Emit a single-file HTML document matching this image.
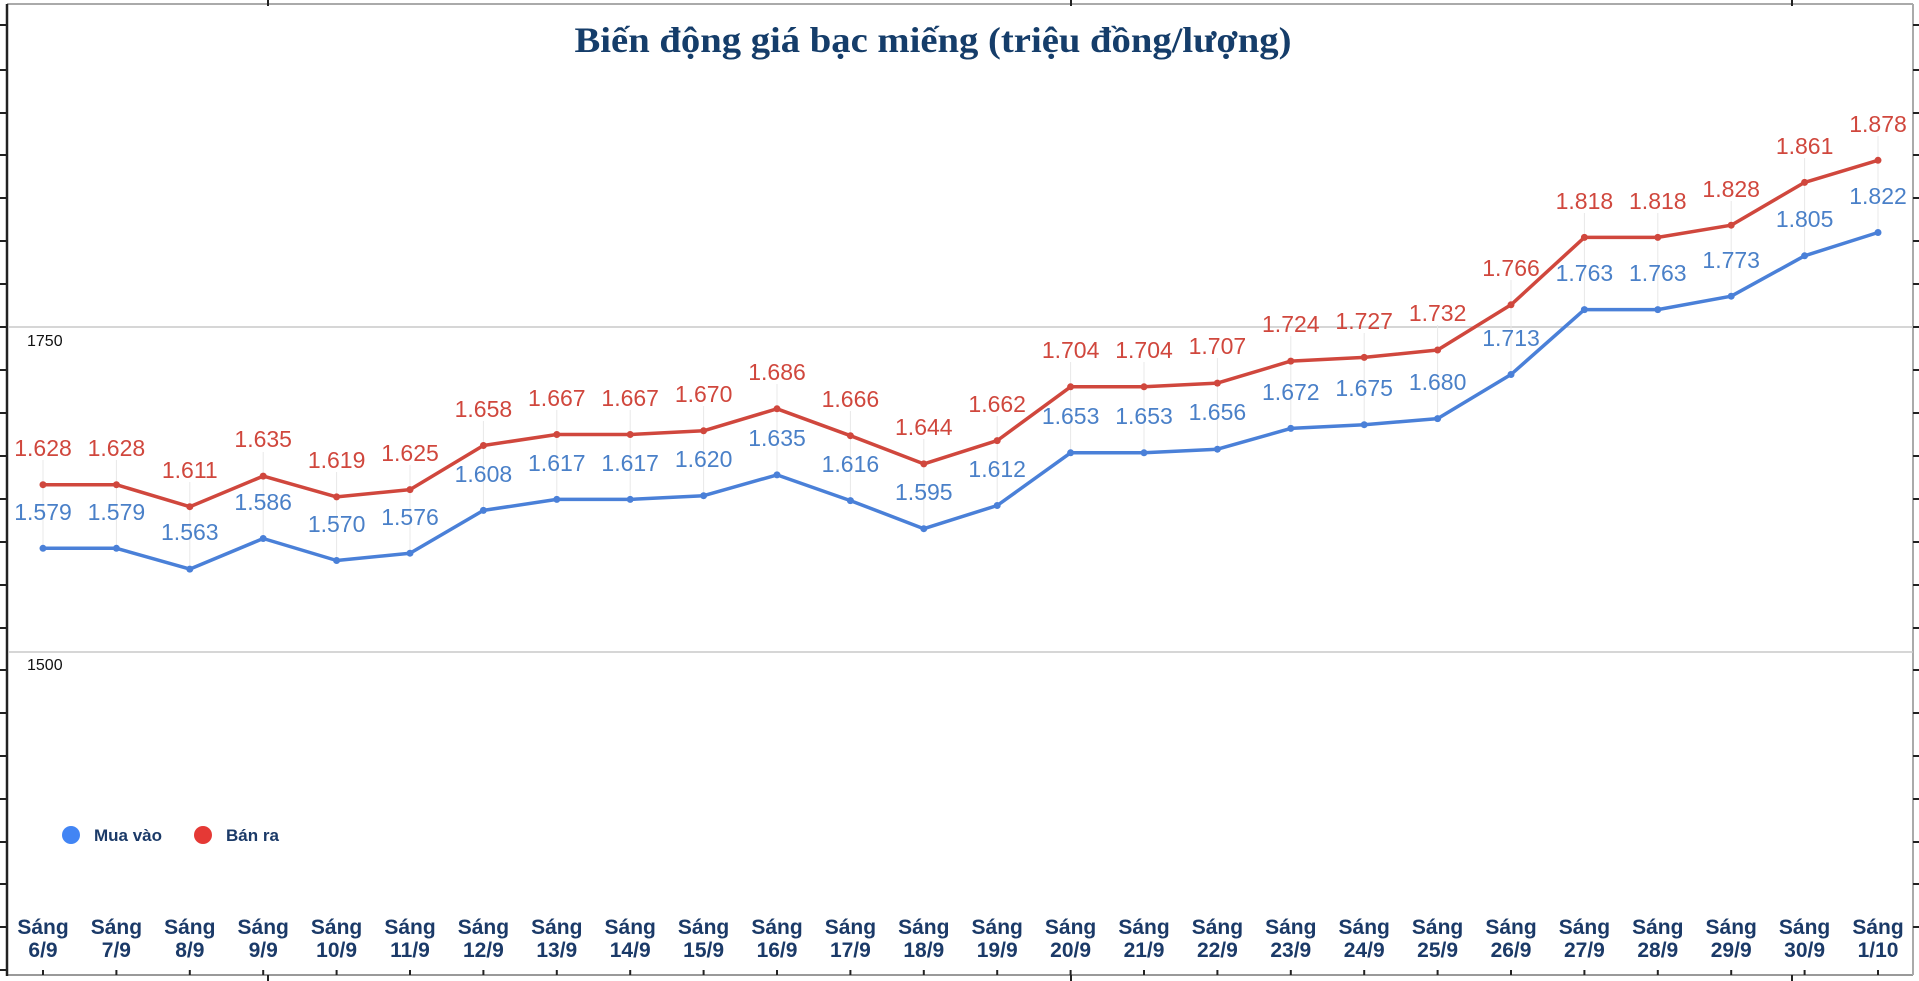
<!DOCTYPE html>
<html><head><meta charset="utf-8"><style>
html,body{margin:0;padding:0;background:#fff;}
svg{display:block;}
.r{fill:#d0473d;font-family:"Liberation Sans",sans-serif;font-size:23px;text-anchor:middle;}
.b{fill:#4a80c8;font-family:"Liberation Sans",sans-serif;font-size:23px;text-anchor:middle;}
.x{fill:#1b3a68;font-family:"Liberation Sans",sans-serif;font-size:21px;font-weight:bold;text-anchor:middle;}
.v{stroke:#e8e8e8;stroke-width:1;}
</style></head><body>
<svg width="1919" height="981" viewBox="0 0 1919 981" xmlns="http://www.w3.org/2000/svg">
<rect width="1919" height="981" fill="#fff"/>
<!-- borders -->
<line x1="7" y1="4" x2="1913" y2="4" stroke="#aaa" stroke-width="2"/>
<line x1="7" y1="975" x2="1913" y2="975" stroke="#999" stroke-width="2"/>
<line x1="1913" y1="4" x2="1913" y2="975" stroke="#aaa" stroke-width="2"/>
<line x1="7" y1="4" x2="7" y2="976" stroke="#222" stroke-width="2.5"/>
<g stroke="#222" stroke-width="2">
<line x1="0" y1="25" x2="7" y2="25"/><line x1="0" y1="70" x2="7" y2="70"/><line x1="0" y1="113" x2="7" y2="113"/><line x1="0" y1="155" x2="7" y2="155"/><line x1="0" y1="198" x2="7" y2="198"/><line x1="0" y1="241" x2="7" y2="241"/><line x1="0" y1="284" x2="7" y2="284"/><line x1="0" y1="327" x2="7" y2="327"/><line x1="0" y1="370" x2="7" y2="370"/><line x1="0" y1="413" x2="7" y2="413"/><line x1="0" y1="456" x2="7" y2="456"/><line x1="0" y1="499" x2="7" y2="499"/><line x1="0" y1="542" x2="7" y2="542"/><line x1="0" y1="585" x2="7" y2="585"/><line x1="0" y1="628" x2="7" y2="628"/><line x1="0" y1="670" x2="7" y2="670"/><line x1="0" y1="713" x2="7" y2="713"/><line x1="0" y1="756" x2="7" y2="756"/><line x1="0" y1="799" x2="7" y2="799"/><line x1="0" y1="842" x2="7" y2="842"/><line x1="0" y1="884" x2="7" y2="884"/><line x1="0" y1="927" x2="7" y2="927"/><line x1="0" y1="970" x2="7" y2="970"/>
<line x1="1913" y1="25" x2="1919" y2="25"/><line x1="1913" y1="70" x2="1919" y2="70"/><line x1="1913" y1="113" x2="1919" y2="113"/><line x1="1913" y1="155" x2="1919" y2="155"/><line x1="1913" y1="198" x2="1919" y2="198"/><line x1="1913" y1="241" x2="1919" y2="241"/><line x1="1913" y1="284" x2="1919" y2="284"/><line x1="1913" y1="327" x2="1919" y2="327"/><line x1="1913" y1="370" x2="1919" y2="370"/><line x1="1913" y1="413" x2="1919" y2="413"/><line x1="1913" y1="456" x2="1919" y2="456"/><line x1="1913" y1="499" x2="1919" y2="499"/><line x1="1913" y1="542" x2="1919" y2="542"/><line x1="1913" y1="585" x2="1919" y2="585"/><line x1="1913" y1="628" x2="1919" y2="628"/><line x1="1913" y1="670" x2="1919" y2="670"/><line x1="1913" y1="713" x2="1919" y2="713"/><line x1="1913" y1="756" x2="1919" y2="756"/><line x1="1913" y1="799" x2="1919" y2="799"/><line x1="1913" y1="842" x2="1919" y2="842"/><line x1="1913" y1="884" x2="1919" y2="884"/><line x1="1913" y1="927" x2="1919" y2="927"/>
<line x1="268" y1="0" x2="268" y2="6"/><line x1="1071" y1="0" x2="1071" y2="6"/><line x1="1792" y1="0" x2="1792" y2="6"/>
<line x1="268" y1="975" x2="268" y2="981"/><line x1="1071" y1="975" x2="1071" y2="981"/><line x1="1792" y1="975" x2="1792" y2="981"/>
</g>
<!-- gridlines -->
<line x1="8" y1="327" x2="1913" y2="327" stroke="#c8c8c8" stroke-width="1.5"/>
<line x1="8" y1="652" x2="1913" y2="652" stroke="#c8c8c8" stroke-width="1.5"/>
<text x="27" y="346" font-family="Liberation Sans,sans-serif" font-size="16" fill="#111">1750</text>
<text x="27" y="670" font-family="Liberation Sans,sans-serif" font-size="16" fill="#111">1500</text>
<!-- title -->
<text x="933" y="52" text-anchor="middle" font-family="Liberation Serif,serif" font-weight="bold" font-size="36" fill="#153d6a" textLength="717" lengthAdjust="spacingAndGlyphs">Biến động giá bạc miếng (triệu đồng/lượng)</text>
<!-- connector lines -->
<g class="v">
<line x1="43" y1="460" x2="43" y2="548"/><line x1="116.4" y1="460" x2="116.4" y2="548"/><line x1="189.8" y1="482" x2="189.8" y2="569"/><line x1="263.2" y1="452" x2="263.2" y2="538"/><line x1="336.6" y1="472" x2="336.6" y2="560"/><line x1="410" y1="465" x2="410" y2="553"/><line x1="483.4" y1="421" x2="483.4" y2="510"/><line x1="556.8" y1="410" x2="556.8" y2="499"/><line x1="630.2" y1="410" x2="630.2" y2="499"/><line x1="703.6" y1="406" x2="703.6" y2="495"/><line x1="777" y1="384" x2="777" y2="475"/><line x1="850.4" y1="411" x2="850.4" y2="500"/><line x1="923.8" y1="439" x2="923.8" y2="528"/><line x1="997.2" y1="416" x2="997.2" y2="505"/><line x1="1070.6" y1="362" x2="1070.6" y2="453"/><line x1="1144" y1="362" x2="1144" y2="453"/><line x1="1217.4" y1="358" x2="1217.4" y2="449"/><line x1="1290.8" y1="336" x2="1290.8" y2="428"/><line x1="1364.2" y1="333" x2="1364.2" y2="425"/><line x1="1437.6" y1="325" x2="1437.6" y2="419"/><line x1="1511" y1="280" x2="1511" y2="374"/><line x1="1584.4" y1="213" x2="1584.4" y2="310"/><line x1="1657.8" y1="213" x2="1657.8" y2="310"/><line x1="1731.2" y1="201" x2="1731.2" y2="296"/><line x1="1804.6" y1="158" x2="1804.6" y2="256"/><line x1="1878" y1="136" x2="1878" y2="232"/>
</g>
<!-- series -->
<polyline fill="none" stroke="#d0473d" stroke-width="3.5" stroke-linejoin="round" points="43,484.7 116.4,484.7 189.8,506.7 263.2,476.1 336.6,496.9 410,489.6 483.4,445.5 556.8,434.5 630.2,434.5 703.6,430.8 777,408.8 850.4,435.7 923.8,463.9 997.2,440.6 1070.6,386.8 1144,386.8 1217.4,383.1 1290.8,361.1 1364.2,357.4 1437.6,350 1511,304.8 1584.4,237.4 1657.8,237.4 1731.2,225.2 1804.6,182.4 1878,160.3"/>
<polyline fill="none" stroke="#4a80d8" stroke-width="3.5" stroke-linejoin="round" points="43,548.3 116.4,548.3 189.8,569.1 263.2,538.5 336.6,560.5 410,553.2 483.4,510.4 556.8,499.4 630.2,499.4 703.6,495.7 777,474.9 850.4,500.6 923.8,528.7 997.2,505.5 1070.6,452.8 1144,452.8 1217.4,449.2 1290.8,428.4 1364.2,424.7 1437.6,418.6 1511,374.5 1584.4,309.6 1657.8,309.6 1731.2,296.2 1804.6,255.8 1878,232.5"/>
<g fill="#d0473d">
<circle cx="43" cy="484.7" r="3.5"/><circle cx="116.4" cy="484.7" r="3.5"/><circle cx="189.8" cy="506.7" r="3.5"/><circle cx="263.2" cy="476.1" r="3.5"/><circle cx="336.6" cy="496.9" r="3.5"/><circle cx="410" cy="489.6" r="3.5"/><circle cx="483.4" cy="445.5" r="3.5"/><circle cx="556.8" cy="434.5" r="3.5"/><circle cx="630.2" cy="434.5" r="3.5"/><circle cx="703.6" cy="430.8" r="3.5"/><circle cx="777" cy="408.8" r="3.5"/><circle cx="850.4" cy="435.7" r="3.5"/><circle cx="923.8" cy="463.9" r="3.5"/><circle cx="997.2" cy="440.6" r="3.5"/><circle cx="1070.6" cy="386.8" r="3.5"/><circle cx="1144" cy="386.8" r="3.5"/><circle cx="1217.4" cy="383.1" r="3.5"/><circle cx="1290.8" cy="361.1" r="3.5"/><circle cx="1364.2" cy="357.4" r="3.5"/><circle cx="1437.6" cy="350" r="3.5"/><circle cx="1511" cy="304.8" r="3.5"/><circle cx="1584.4" cy="237.4" r="3.5"/><circle cx="1657.8" cy="237.4" r="3.5"/><circle cx="1731.2" cy="225.2" r="3.5"/><circle cx="1804.6" cy="182.4" r="3.5"/><circle cx="1878" cy="160.3" r="3.5"/>
</g>
<g fill="#4a80d8">
<circle cx="43" cy="548.3" r="3.5"/><circle cx="116.4" cy="548.3" r="3.5"/><circle cx="189.8" cy="569.1" r="3.5"/><circle cx="263.2" cy="538.5" r="3.5"/><circle cx="336.6" cy="560.5" r="3.5"/><circle cx="410" cy="553.2" r="3.5"/><circle cx="483.4" cy="510.4" r="3.5"/><circle cx="556.8" cy="499.4" r="3.5"/><circle cx="630.2" cy="499.4" r="3.5"/><circle cx="703.6" cy="495.7" r="3.5"/><circle cx="777" cy="474.9" r="3.5"/><circle cx="850.4" cy="500.6" r="3.5"/><circle cx="923.8" cy="528.7" r="3.5"/><circle cx="997.2" cy="505.5" r="3.5"/><circle cx="1070.6" cy="452.8" r="3.5"/><circle cx="1144" cy="452.8" r="3.5"/><circle cx="1217.4" cy="449.2" r="3.5"/><circle cx="1290.8" cy="428.4" r="3.5"/><circle cx="1364.2" cy="424.7" r="3.5"/><circle cx="1437.6" cy="418.6" r="3.5"/><circle cx="1511" cy="374.5" r="3.5"/><circle cx="1584.4" cy="309.6" r="3.5"/><circle cx="1657.8" cy="309.6" r="3.5"/><circle cx="1731.2" cy="296.2" r="3.5"/><circle cx="1804.6" cy="255.8" r="3.5"/><circle cx="1878" cy="232.5" r="3.5"/>
</g>
<!-- red labels -->
<g class="r">
<text x="43" y="456">1.628</text><text x="116.4" y="456">1.628</text><text x="189.8" y="478">1.611</text><text x="263.2" y="447">1.635</text><text x="336.6" y="468">1.619</text><text x="410" y="461">1.625</text><text x="483.4" y="417">1.658</text><text x="556.8" y="406">1.667</text><text x="630.2" y="406">1.667</text><text x="703.6" y="402">1.670</text><text x="777" y="380">1.686</text><text x="850.4" y="407">1.666</text><text x="923.8" y="435">1.644</text><text x="997.2" y="412">1.662</text><text x="1070.6" y="358">1.704</text><text x="1144" y="358">1.704</text><text x="1217.4" y="354">1.707</text><text x="1290.8" y="332">1.724</text><text x="1364.2" y="329">1.727</text><text x="1437.6" y="321">1.732</text><text x="1511" y="276">1.766</text><text x="1584.4" y="209">1.818</text><text x="1657.8" y="209">1.818</text><text x="1731.2" y="197">1.828</text><text x="1804.6" y="154">1.861</text><text x="1878" y="132">1.878</text>
</g>
<g class="b">
<text x="43" y="520">1.579</text><text x="116.4" y="520">1.579</text><text x="189.8" y="540">1.563</text><text x="263.2" y="510">1.586</text><text x="336.6" y="532">1.570</text><text x="410" y="525">1.576</text><text x="483.4" y="482">1.608</text><text x="556.8" y="471">1.617</text><text x="630.2" y="471">1.617</text><text x="703.6" y="467">1.620</text><text x="777" y="446">1.635</text><text x="850.4" y="472">1.616</text><text x="923.8" y="500">1.595</text><text x="997.2" y="477">1.612</text><text x="1070.6" y="424">1.653</text><text x="1144" y="424">1.653</text><text x="1217.4" y="420">1.656</text><text x="1290.8" y="400">1.672</text><text x="1364.2" y="396">1.675</text><text x="1437.6" y="390">1.680</text><text x="1511" y="346">1.713</text><text x="1584.4" y="281">1.763</text><text x="1657.8" y="281">1.763</text><text x="1731.2" y="268">1.773</text><text x="1804.6" y="227">1.805</text><text x="1878" y="204">1.822</text>
</g>
<!-- legend -->
<circle cx="71" cy="835" r="9" fill="#4285f4"/>
<text x="94" y="841" font-family="Liberation Sans,sans-serif" font-weight="bold" font-size="17" fill="#1b3a68">Mua vào</text>
<circle cx="203" cy="835" r="9" fill="#e53935"/>
<text x="226" y="841" font-family="Liberation Sans,sans-serif" font-weight="bold" font-size="17" fill="#1b3a68">Bán ra</text>
<!-- x labels -->
<g class="x">
<text x="43" y="934">Sáng</text><text x="43" y="957">6/9</text>
<text x="116.4" y="934">Sáng</text><text x="116.4" y="957">7/9</text>
<text x="189.8" y="934">Sáng</text><text x="189.8" y="957">8/9</text>
<text x="263.2" y="934">Sáng</text><text x="263.2" y="957">9/9</text>
<text x="336.6" y="934">Sáng</text><text x="336.6" y="957">10/9</text>
<text x="410" y="934">Sáng</text><text x="410" y="957">11/9</text>
<text x="483.4" y="934">Sáng</text><text x="483.4" y="957">12/9</text>
<text x="556.8" y="934">Sáng</text><text x="556.8" y="957">13/9</text>
<text x="630.2" y="934">Sáng</text><text x="630.2" y="957">14/9</text>
<text x="703.6" y="934">Sáng</text><text x="703.6" y="957">15/9</text>
<text x="777" y="934">Sáng</text><text x="777" y="957">16/9</text>
<text x="850.4" y="934">Sáng</text><text x="850.4" y="957">17/9</text>
<text x="923.8" y="934">Sáng</text><text x="923.8" y="957">18/9</text>
<text x="997.2" y="934">Sáng</text><text x="997.2" y="957">19/9</text>
<text x="1070.6" y="934">Sáng</text><text x="1070.6" y="957">20/9</text>
<text x="1144" y="934">Sáng</text><text x="1144" y="957">21/9</text>
<text x="1217.4" y="934">Sáng</text><text x="1217.4" y="957">22/9</text>
<text x="1290.8" y="934">Sáng</text><text x="1290.8" y="957">23/9</text>
<text x="1364.2" y="934">Sáng</text><text x="1364.2" y="957">24/9</text>
<text x="1437.6" y="934">Sáng</text><text x="1437.6" y="957">25/9</text>
<text x="1511" y="934">Sáng</text><text x="1511" y="957">26/9</text>
<text x="1584.4" y="934">Sáng</text><text x="1584.4" y="957">27/9</text>
<text x="1657.8" y="934">Sáng</text><text x="1657.8" y="957">28/9</text>
<text x="1731.2" y="934">Sáng</text><text x="1731.2" y="957">29/9</text>
<text x="1804.6" y="934">Sáng</text><text x="1804.6" y="957">30/9</text>
<text x="1878" y="934">Sáng</text><text x="1878" y="957">1/10</text>
</g>
<g stroke="#222" stroke-width="2">
<line x1="43" y1="970" x2="43" y2="975"/><line x1="116.4" y1="970" x2="116.4" y2="975"/><line x1="189.8" y1="970" x2="189.8" y2="975"/><line x1="263.2" y1="970" x2="263.2" y2="975"/><line x1="336.6" y1="970" x2="336.6" y2="975"/><line x1="410" y1="970" x2="410" y2="975"/><line x1="483.4" y1="970" x2="483.4" y2="975"/><line x1="556.8" y1="970" x2="556.8" y2="975"/><line x1="630.2" y1="970" x2="630.2" y2="975"/><line x1="703.6" y1="970" x2="703.6" y2="975"/><line x1="777" y1="970" x2="777" y2="975"/><line x1="850.4" y1="970" x2="850.4" y2="975"/><line x1="923.8" y1="970" x2="923.8" y2="975"/><line x1="997.2" y1="970" x2="997.2" y2="975"/><line x1="1070.6" y1="970" x2="1070.6" y2="975"/><line x1="1144" y1="970" x2="1144" y2="975"/><line x1="1217.4" y1="970" x2="1217.4" y2="975"/><line x1="1290.8" y1="970" x2="1290.8" y2="975"/><line x1="1364.2" y1="970" x2="1364.2" y2="975"/><line x1="1437.6" y1="970" x2="1437.6" y2="975"/><line x1="1511" y1="970" x2="1511" y2="975"/><line x1="1584.4" y1="970" x2="1584.4" y2="975"/><line x1="1657.8" y1="970" x2="1657.8" y2="975"/><line x1="1731.2" y1="970" x2="1731.2" y2="975"/><line x1="1804.6" y1="970" x2="1804.6" y2="975"/><line x1="1878" y1="970" x2="1878" y2="975"/>
</g>
</svg>
</body></html>
